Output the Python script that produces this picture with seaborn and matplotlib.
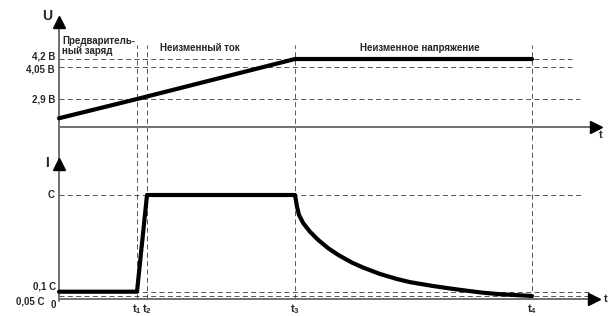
import numpy as np
import pandas as pd
import seaborn as sns
import matplotlib
matplotlib.use("Agg")
import matplotlib.pyplot as plt

# charge stages: pre-charge, constant current, constant voltage
t_marks = [0.78, 0.88, 2.36, 4.73]
t_labels = [r"$\mathrm{t}_1$", r"$\mathrm{t}_2$", r"$\mathrm{t}_3$", r"$\mathrm{t}_4$"]

voltage_time = [0.0, 0.78, 2.36, 4.73]
voltage = [2.62, 2.9, 4.2, 4.2]
voltage_levels = [4.2, 4.05, 2.9]
voltage_labels = ["4,2 В", "4,05 В", "2,9 В"]

current_time = [0.0, 0.78, 0.88, 2.36, 2.38, 2.40, 2.443, 2.51, 2.593, 2.693,
                2.793, 2.927, 3.04, 3.21, 3.38, 3.51, 3.74, 3.91, 4.08, 4.24,
                4.41, 4.73]
current = [0.1, 0.1, 1.0, 1.0, 0.891, 0.814, 0.737, 0.658, 0.581, 0.504,
           0.442, 0.372, 0.325, 0.265, 0.218, 0.189, 0.153, 0.13, 0.109, 0.088,
           0.071, 0.05]
current_levels = [1.0, 0.1, 0.05]
current_labels = ["C", "0,1 C", "0,05 C"]

stage_labels = ["Предваритель-\nный заряд", "Неизменный ток", "Неизменное напряжение"]

sns.set_style("white")
plt.rcParams["font.family"] = ["Liberation Sans", "DejaVu Sans"]
plt.rcParams["font.weight"] = "bold"
plt.rcParams["mathtext.fontset"] = "custom"
plt.rcParams["mathtext.rm"] = "Liberation Sans:bold"
plt.rcParams["mathtext.it"] = "Liberation Sans:bold"
plt.rcParams["lines.scale_dashes"] = False

W, H = 608, 316
fig = plt.figure(figsize=(W / 100, H / 100), dpi=100)
ax_u = fig.add_axes([0, 176 / H, 1, 140 / H])
ax_i = fig.add_axes([0, 0, 1, 176 / H])

# schematic (non-linear) vertical scales
u_knots = [2.3, 2.5, 2.9, 4.05, 4.2, 5.0]
u_heights = [0, 13.5, 41, 73.5, 81, 140]
i_knots = [-0.163, 0.0, 0.05, 0.1, 1.0, 1.512]
i_heights = [0, 17.5, 20, 24.3, 121, 176]


def piecewise(knots, heights):
    fwd = lambda v: np.interp(v, knots, heights)
    inv = lambda h: np.interp(h, heights, knots)
    return fwd, inv


ax_u.set_yscale("function", functions=piecewise(u_knots, u_heights))
ax_i.set_yscale("function", functions=piecewise(i_knots, i_heights))
ax_u.set_ylim(u_knots[0], u_knots[-1])
ax_i.set_ylim(i_knots[0], i_knots[-1])

xlim = (-0.59, 5.49)
for ax in (ax_u, ax_i):
    ax.set_xlim(*xlim)
    ax.set_xticks([])
    ax.set_yticks([])
    for s in ax.spines.values():
        s.set_visible(False)
    ax.patch.set_alpha(0)

dash = dict(color="#3a3a3a", lw=0.6, ls=(0, (3.6, 2.4)))
axis_col = "#707070"

# guide lines
ax_u.hlines(voltage_levels, 0, [5.13, 5.13, 5.21], **dash)
ax_i.hlines(current_levels, 0, [5.23, 5.31, 5.31], **dash)
for t in t_marks:
    ax_u.axvline(t, ymin=0, ymax=(140 - 45) / 140, **dash)
    ax_i.axvline(t, ymin=17.5 / 176, ymax=1, **dash)

# axes with arrows
ax_u.plot([0, 5.38], [2.5, 2.5], color=axis_col, lw=1.4, clip_on=False)
ax_u.plot(5.37, 2.5, marker=">", color="black", ms=9, clip_on=False)
ax_u.plot([0, 0], [2.3, 4.75], color=axis_col, lw=1.4, clip_on=False)
ax_u.plot(0, 4.70, marker="^", color="black", ms=9, clip_on=False)
ax_i.plot([0, 5.38], [0, 0], color=axis_col, lw=1.4, clip_on=False)
ax_i.plot(5.35, 0, marker=">", color="black", ms=9, clip_on=False)
ax_i.plot([0, 0], [-0.02, 1.512], color=axis_col, lw=1.4, clip_on=False)
ax_i.plot(0, 1.29, marker="^", color="black", ms=9, clip_on=False)

# data curves
sns.lineplot(data=pd.DataFrame({"t": voltage_time, "U": voltage}), x="t", y="U",
             ax=ax_u, color="black", lw=3, estimator=None, sort=False)
sns.lineplot(data=pd.DataFrame({"t": current_time, "I": current}), x="t", y="I",
             ax=ax_i, color="black", lw=3, estimator=None, sort=False)
for ax in (ax_u, ax_i):
    ax.set_xlabel("")
    ax.set_ylabel("")

fs = 7
ytr_u = ax_u.get_yaxis_transform()
ytr_i = ax_i.get_yaxis_transform()
offsets = [1.8, -1.8, 0]
for v, lab, dy in zip(voltage_levels, voltage_labels, offsets):
    ax_u.annotate(lab, (55 / W, v), xycoords=ytr_u, xytext=(0, dy),
                  textcoords="offset points", ha="right", va="center", fontsize=fs)
ax_i.text(55 / W, 1.0, current_labels[0], transform=ytr_i, ha="right", va="center", fontsize=fs)
ax_i.text(56 / W, 0.1, current_labels[1], transform=ytr_i, ha="right", va="bottom", fontsize=fs)
ax_i.text(44 / W, 0.05, current_labels[2], transform=ytr_i, ha="right", va="top", fontsize=fs)
ax_i.text(53 / W, -0.01, "0", transform=ytr_i, ha="center", va="top", fontsize=fs)

ax_u.text(47 / W, 4.78, "U", transform=ytr_u, ha="center", va="center", fontsize=10)
ax_i.text(47 / W, 1.30, "I", transform=ytr_i, ha="center", va="center", fontsize=10)
ax_u.text(5.42, 2.45, "t", ha="center", va="top", fontsize=8)
ax_i.text(5.47, 0, "t", ha="center", va="center", fontsize=8)

for t, lab in zip(t_marks, t_labels):
    ax_i.text(t, -0.03, lab, ha="center", va="top", fontsize=8)

xtr_u = ax_u.get_xaxis_transform()
ax_u.text(0.03, 0.74, stage_labels[0], transform=xtr_u, ha="left", va="top",
          fontsize=fs, linespacing=0.95)
ax_u.text(1.41, 0.657, stage_labels[1], transform=xtr_u, ha="center", va="center", fontsize=fs)
ax_u.text(3.61, 0.657, stage_labels[2], transform=xtr_u, ha="center", va="center", fontsize=fs)

fig.savefig("out.png", dpi=100)
